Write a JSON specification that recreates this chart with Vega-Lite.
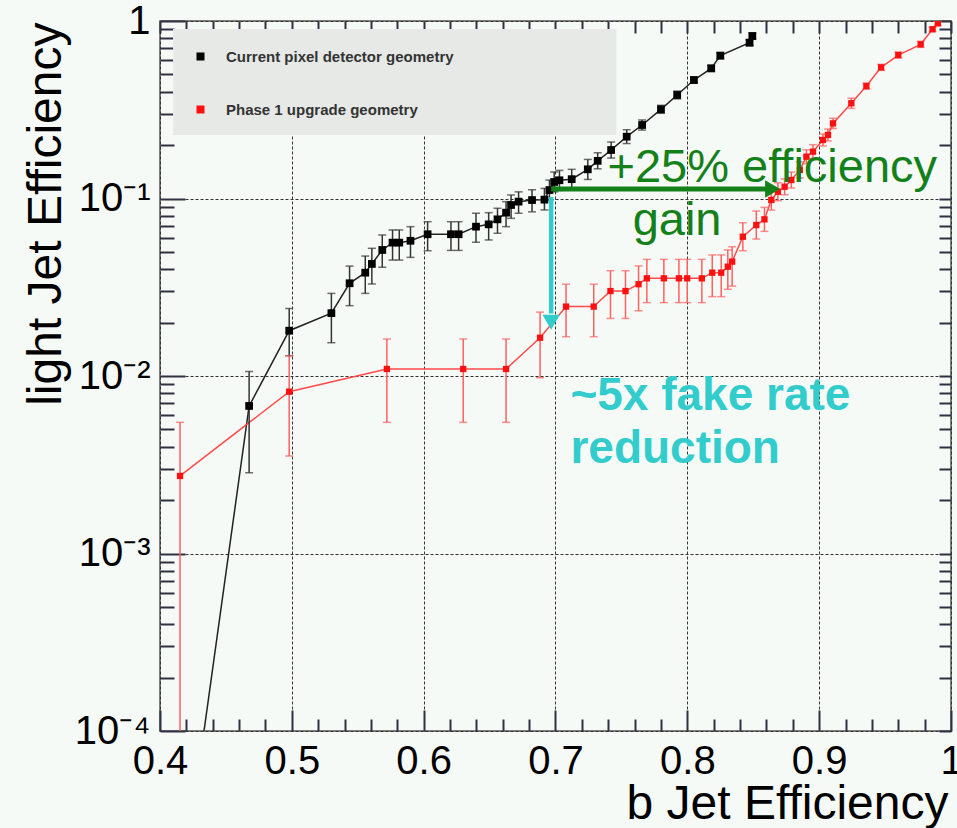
{
  "$schema": "https://vega.github.io/schema/vega-lite/v6.json",
  "width": 791,
  "height": 710,
  "autosize": {"type": "none"},
  "padding": {"left": 160, "top": 21, "right": 6, "bottom": 97},
  "background": "#f6faf7",
  "config": {
    "view": {"stroke": "#555555", "strokeWidth": 1.5},
    "font": "Liberation Sans"
  },
  "resolve": {"axis": {"x": "independent", "y": "independent"}},
  "datasets": {
    "curves": [
      {"s": "Current pixel detector geometry", "x": 0.4147, "y": 0.00001, "lo": 0.00001, "hi": 0.00001},
      {"s": "Current pixel detector geometry", "x": 0.4676, "y": 0.00678, "lo": 0.00285, "hi": 0.0106},
      {"s": "Current pixel detector geometry", "x": 0.498, "y": 0.018, "lo": 0.013, "hi": 0.024},
      {"s": "Current pixel detector geometry", "x": 0.53, "y": 0.0226, "lo": 0.0154, "hi": 0.0292},
      {"s": "Current pixel detector geometry", "x": 0.5438, "y": 0.0333, "lo": 0.0249, "hi": 0.0416},
      {"s": "Current pixel detector geometry", "x": 0.5557, "y": 0.0382, "lo": 0.0292, "hi": 0.0474},
      {"s": "Current pixel detector geometry", "x": 0.5607, "y": 0.0428, "lo": 0.033, "hi": 0.0524},
      {"s": "Current pixel detector geometry", "x": 0.5686, "y": 0.0513, "lo": 0.041, "hi": 0.0623},
      {"s": "Current pixel detector geometry", "x": 0.5764, "y": 0.0564, "lo": 0.045, "hi": 0.0665},
      {"s": "Current pixel detector geometry", "x": 0.5815, "y": 0.0564, "lo": 0.045, "hi": 0.0665},
      {"s": "Current pixel detector geometry", "x": 0.59, "y": 0.0578, "lo": 0.0466, "hi": 0.0694},
      {"s": "Current pixel detector geometry", "x": 0.603, "y": 0.0629, "lo": 0.0508, "hi": 0.074},
      {"s": "Current pixel detector geometry", "x": 0.6207, "y": 0.0629, "lo": 0.051, "hi": 0.074},
      {"s": "Current pixel detector geometry", "x": 0.6265, "y": 0.0629, "lo": 0.051, "hi": 0.074},
      {"s": "Current pixel detector geometry", "x": 0.6397, "y": 0.0694, "lo": 0.0567, "hi": 0.0826},
      {"s": "Current pixel detector geometry", "x": 0.6493, "y": 0.0715, "lo": 0.0584, "hi": 0.0832},
      {"s": "Current pixel detector geometry", "x": 0.656, "y": 0.0763, "lo": 0.0637, "hi": 0.0881},
      {"s": "Current pixel detector geometry", "x": 0.6625, "y": 0.0832, "lo": 0.0694, "hi": 0.096},
      {"s": "Current pixel detector geometry", "x": 0.6663, "y": 0.0919, "lo": 0.0773, "hi": 0.1047},
      {"s": "Current pixel detector geometry", "x": 0.672, "y": 0.096, "lo": 0.0826, "hi": 0.109},
      {"s": "Current pixel detector geometry", "x": 0.6822, "y": 0.098, "lo": 0.0841, "hi": 0.112},
      {"s": "Current pixel detector geometry", "x": 0.6916, "y": 0.0985, "lo": 0.0862, "hi": 0.114},
      {"s": "Current pixel detector geometry", "x": 0.6954, "y": 0.1116, "lo": 0.098, "hi": 0.127},
      {"s": "Current pixel detector geometry", "x": 0.699, "y": 0.1239, "lo": 0.109, "hi": 0.141},
      {"s": "Current pixel detector geometry", "x": 0.703, "y": 0.1267, "lo": 0.111, "hi": 0.144},
      {"s": "Current pixel detector geometry", "x": 0.7123, "y": 0.1285, "lo": 0.113, "hi": 0.146},
      {"s": "Current pixel detector geometry", "x": 0.7245, "y": 0.146, "lo": 0.128, "hi": 0.166},
      {"s": "Current pixel detector geometry", "x": 0.732, "y": 0.163, "lo": 0.147, "hi": 0.181},
      {"s": "Current pixel detector geometry", "x": 0.7422, "y": 0.1876, "lo": 0.169, "hi": 0.208},
      {"s": "Current pixel detector geometry", "x": 0.754, "y": 0.223, "lo": 0.204, "hi": 0.244},
      {"s": "Current pixel detector geometry", "x": 0.7657, "y": 0.2595, "lo": 0.243, "hi": 0.277},
      {"s": "Current pixel detector geometry", "x": 0.78, "y": 0.318, "lo": 0.302, "hi": 0.335},
      {"s": "Current pixel detector geometry", "x": 0.7923, "y": 0.383, "lo": 0.364, "hi": 0.403},
      {"s": "Current pixel detector geometry", "x": 0.805, "y": 0.465, "lo": 0.447, "hi": 0.484},
      {"s": "Current pixel detector geometry", "x": 0.8181, "y": 0.541, "lo": 0.52, "hi": 0.563},
      {"s": "Current pixel detector geometry", "x": 0.825, "y": 0.638, "lo": 0.613, "hi": 0.664},
      {"s": "Current pixel detector geometry", "x": 0.8472, "y": 0.755, "lo": 0.726, "hi": 0.785},
      {"s": "Current pixel detector geometry", "x": 0.8493, "y": 0.823, "lo": 0.791, "hi": 0.856},
      {"s": "Phase 1 upgrade geometry", "x": 0.4152, "y": 0.002734, "lo": 0.00001, "hi": 0.00548},
      {"s": "Phase 1 upgrade geometry", "x": 0.498, "y": 0.00816, "lo": 0.00354, "hi": 0.013},
      {"s": "Phase 1 upgrade geometry", "x": 0.5721, "y": 0.01095, "lo": 0.00548, "hi": 0.01616},
      {"s": "Phase 1 upgrade geometry", "x": 0.63, "y": 0.01095, "lo": 0.00548, "hi": 0.01616},
      {"s": "Phase 1 upgrade geometry", "x": 0.6625, "y": 0.01095, "lo": 0.00548, "hi": 0.01616},
      {"s": "Phase 1 upgrade geometry", "x": 0.6883, "y": 0.01643, "lo": 0.00978, "hi": 0.0229},
      {"s": "Phase 1 upgrade geometry", "x": 0.708, "y": 0.0246, "lo": 0.01665, "hi": 0.0329},
      {"s": "Phase 1 upgrade geometry", "x": 0.729, "y": 0.0246, "lo": 0.01665, "hi": 0.0329},
      {"s": "Phase 1 upgrade geometry", "x": 0.7417, "y": 0.0301, "lo": 0.0211, "hi": 0.0392},
      {"s": "Phase 1 upgrade geometry", "x": 0.7531, "y": 0.0301, "lo": 0.0211, "hi": 0.0392},
      {"s": "Phase 1 upgrade geometry", "x": 0.763, "y": 0.0329, "lo": 0.0233, "hi": 0.0417},
      {"s": "Phase 1 upgrade geometry", "x": 0.7693, "y": 0.0355, "lo": 0.0259, "hi": 0.0454},
      {"s": "Phase 1 upgrade geometry", "x": 0.7822, "y": 0.0355, "lo": 0.0259, "hi": 0.0454},
      {"s": "Phase 1 upgrade geometry", "x": 0.7936, "y": 0.0355, "lo": 0.0259, "hi": 0.0454},
      {"s": "Phase 1 upgrade geometry", "x": 0.7999, "y": 0.0355, "lo": 0.0259, "hi": 0.0454},
      {"s": "Phase 1 upgrade geometry", "x": 0.811, "y": 0.0355, "lo": 0.0259, "hi": 0.0454},
      {"s": "Phase 1 upgrade geometry", "x": 0.8189, "y": 0.0382, "lo": 0.028, "hi": 0.0481},
      {"s": "Phase 1 upgrade geometry", "x": 0.8257, "y": 0.0382, "lo": 0.028, "hi": 0.0481},
      {"s": "Phase 1 upgrade geometry", "x": 0.8307, "y": 0.0413, "lo": 0.0308, "hi": 0.0513},
      {"s": "Phase 1 upgrade geometry", "x": 0.834, "y": 0.0441, "lo": 0.0321, "hi": 0.0535},
      {"s": "Phase 1 upgrade geometry", "x": 0.8421, "y": 0.0609, "lo": 0.0508, "hi": 0.073},
      {"s": "Phase 1 upgrade geometry", "x": 0.8523, "y": 0.0709, "lo": 0.0591, "hi": 0.085},
      {"s": "Phase 1 upgrade geometry", "x": 0.8585, "y": 0.0763, "lo": 0.0653, "hi": 0.0891},
      {"s": "Phase 1 upgrade geometry", "x": 0.8637, "y": 0.0981, "lo": 0.0861, "hi": 0.1117},
      {"s": "Phase 1 upgrade geometry", "x": 0.8687, "y": 0.1092, "lo": 0.0972, "hi": 0.1227},
      {"s": "Phase 1 upgrade geometry", "x": 0.8738, "y": 0.1165, "lo": 0.105, "hi": 0.129},
      {"s": "Phase 1 upgrade geometry", "x": 0.8789, "y": 0.1271, "lo": 0.1146, "hi": 0.141},
      {"s": "Phase 1 upgrade geometry", "x": 0.8853, "y": 0.1448, "lo": 0.1306, "hi": 0.1606},
      {"s": "Phase 1 upgrade geometry", "x": 0.8903, "y": 0.172, "lo": 0.157, "hi": 0.188},
      {"s": "Phase 1 upgrade geometry", "x": 0.8953, "y": 0.1836, "lo": 0.168, "hi": 0.201},
      {"s": "Phase 1 upgrade geometry", "x": 0.9029, "y": 0.2136, "lo": 0.1976, "hi": 0.231},
      {"s": "Phase 1 upgrade geometry", "x": 0.9067, "y": 0.228, "lo": 0.211, "hi": 0.246},
      {"s": "Phase 1 upgrade geometry", "x": 0.9105, "y": 0.265, "lo": 0.248, "hi": 0.283},
      {"s": "Phase 1 upgrade geometry", "x": 0.9244, "y": 0.344, "lo": 0.322, "hi": 0.367},
      {"s": "Phase 1 upgrade geometry", "x": 0.9358, "y": 0.43, "lo": 0.413, "hi": 0.447},
      {"s": "Phase 1 upgrade geometry", "x": 0.947, "y": 0.548, "lo": 0.527, "hi": 0.57},
      {"s": "Phase 1 upgrade geometry", "x": 0.96, "y": 0.643, "lo": 0.618, "hi": 0.669},
      {"s": "Phase 1 upgrade geometry", "x": 0.977, "y": 0.739, "lo": 0.71, "hi": 0.769},
      {"s": "Phase 1 upgrade geometry", "x": 0.986, "y": 0.898, "lo": 0.874, "hi": 0.922},
      {"s": "Phase 1 upgrade geometry", "x": 0.99, "y": 0.97, "lo": 0.945, "hi": 0.995}
    ]
  },
  "layer": [
    {
      "data": {"values": [{"x": 0.4099, "x2": 0.7462, "y": 0.901, "y2": 0.228}]},
      "mark": {"type": "rect", "color": "#e6e9e6"},
      "encoding": {
        "x": {"field": "x", "type": "quantitative", "scale": {"domain": [0.4, 1], "nice": false, "zero": false}, "axis": null},
        "x2": {"field": "x2"},
        "y": {"field": "y", "type": "quantitative", "scale": {"type": "log", "domain": [0.0001, 1], "nice": false}, "axis": null},
        "y2": {"field": "y2"}
      }
    },
    {
      "data": {"name": "curves"},
      "mark": {"type": "line", "clip": true, "strokeWidth": 1.5},
      "encoding": {
        "x": {
          "field": "x", "type": "quantitative",
          "scale": {"domain": [0.4, 1], "nice": false, "zero": false},
          "axis": {
            "orient": "bottom",
            "values": [0.4, 0.5, 0.6, 0.7, 0.8, 0.9, 1],
            "format": "~g",
            "labelOverlap": false, "labelFlush": false, "labelBound": false,
            "labelFont": "Liberation Sans", "labelFontSize": 40, "labelColor": "#000000",
            "labelPadding": 10,
            "ticks": false, "tickSize": 0,
            "domain": false,
            "grid": true, "gridColor": "#333333", "gridDash": [3, 2], "gridWidth": 1,
            "title": "b Jet Efficiency",
            "titleFont": "Liberation Sans", "titleFontSize": 48, "titleFontWeight": "normal", "titleColor": "#000000",
            "titleAlign": "right", "titleBaseline": "alphabetic", "titleX": 788, "titleY": 87
          }
        },
        "y": {
          "field": "y", "type": "quantitative",
          "scale": {"type": "log", "domain": [0.0001, 1], "nice": false},
          "axis": {
            "orient": "left",
            "values": [0.0001, 0.001, 0.01, 0.1, 1],
            "labelExpr": "datum.value == 1 ? '1' : datum.value == 0.1 ? '10⁻¹' : datum.value == 0.01 ? '10⁻²' : datum.value == 0.001 ? '10⁻³' : '10⁻⁴'",
            "labelOverlap": false, "labelFlush": false, "labelBound": false,
            "labelFont": "Liberation Sans", "labelFontSize": 40, "labelColor": "#000000",
            "labelPadding": 10,
            "ticks": false, "tickSize": 0,
            "domain": false,
            "grid": true, "gridColor": "#333333", "gridDash": [3, 2], "gridWidth": 1,
            "title": "light Jet Efficiency",
            "titleFont": "Liberation Sans", "titleFontSize": 48, "titleFontWeight": "normal", "titleColor": "#000000",
            "titleAngle": -90, "titleAlign": "right", "titleBaseline": "alphabetic", "titleX": -100, "titleY": 1
          }
        },
        "detail": {"field": "s"},
        "color": {"condition": {"test": "datum.s == 'Phase 1 upgrade geometry'", "value": "#ff4a4a"}, "value": "#222222"}
      }
    },
    {
      "data": {"name": "curves"},
      "mark": {"type": "rule", "clip": true, "strokeWidth": 1.5},
      "encoding": {
        "x": {
          "field": "x", "type": "quantitative",
          "scale": {"domain": [0.4, 1], "nice": false, "zero": false},
          "axis": {
            "orient": "bottom", "values": [0.4, 0.5, 0.6, 0.7, 0.8, 0.9, 1],
            "labels": false, "tickSize": -21, "tickColor": "#303040", "tickWidth": 2,
            "domain": false, "grid": false, "title": null
          }
        },
        "y": {
          "field": "lo", "type": "quantitative",
          "scale": {"type": "log", "domain": [0.0001, 1], "nice": false},
          "axis": {
            "orient": "left", "values": [0.0001, 0.001, 0.01, 0.1, 1],
            "labels": false, "tickSize": -25, "tickColor": "#303040", "tickWidth": 2,
            "domain": false, "grid": false, "title": null
          }
        },
        "y2": {"field": "hi"},
        "color": {"condition": {"test": "datum.s == 'Phase 1 upgrade geometry'", "value": "#ff6060"}, "value": "#333333"}
      }
    },
    {
      "data": {"name": "curves"},
      "transform": [{"fold": ["lo", "hi"], "as": ["end", "bound"]}],
      "mark": {"type": "tick", "orient": "horizontal", "clip": true, "size": 8, "thickness": 1.5},
      "encoding": {
        "x": {
          "field": "x", "type": "quantitative",
          "scale": {"domain": [0.4, 1], "nice": false, "zero": false},
          "axis": {
            "orient": "bottom",
            "values": [0.42,0.44,0.46,0.48,0.52,0.54,0.56,0.58,0.62,0.64,0.66,0.68,0.72,0.74,0.76,0.78,0.82,0.84,0.86,0.88,0.92,0.94,0.96,0.98],
            "labels": false, "tickSize": -12, "tickColor": "#303040", "tickWidth": 2,
            "domain": false, "grid": false, "title": null
          }
        },
        "y": {
          "field": "bound", "type": "quantitative",
          "scale": {"type": "log", "domain": [0.0001, 1], "nice": false},
          "axis": {
            "orient": "left",
            "values": [0.0002,0.0003,0.0004,0.0005,0.0006,0.0007,0.0008,0.0009,0.002,0.003,0.004,0.005,0.006,0.007,0.008,0.009,0.02,0.03,0.04,0.05,0.06,0.07,0.08,0.09,0.2,0.3,0.4,0.5,0.6,0.7,0.8,0.9],
            "labels": false, "tickSize": -14, "tickColor": "#303040", "tickWidth": 2,
            "domain": false, "grid": false, "title": null
          }
        },
        "color": {"condition": {"test": "datum.s == 'Phase 1 upgrade geometry'", "value": "#ff6060"}, "value": "#333333"}
      }
    },
    {
      "data": {"name": "curves"},
      "mark": {"type": "square", "clip": true, "filled": true, "opacity": 1},
      "encoding": {
        "x": {
          "field": "x", "type": "quantitative",
          "scale": {"domain": [0.4, 1], "nice": false, "zero": false},
          "axis": {
            "orient": "top",
            "values": [0.4,0.42,0.44,0.46,0.48,0.5,0.52,0.54,0.56,0.58,0.6,0.62,0.64,0.66,0.68,0.7,0.72,0.74,0.76,0.78,0.8,0.82,0.84,0.86,0.88,0.9,0.92,0.94,0.96,0.98,1],
            "labels": false, "tickSize": -12, "tickColor": "#303040", "tickWidth": 2,
            "domain": false, "grid": false, "title": null
          }
        },
        "y": {
          "field": "y", "type": "quantitative",
          "scale": {"type": "log", "domain": [0.0001, 1], "nice": false},
          "axis": {
            "orient": "right",
            "values": [0.0001,0.0002,0.0003,0.0004,0.0005,0.0006,0.0007,0.0008,0.0009,0.001,0.002,0.003,0.004,0.005,0.006,0.007,0.008,0.009,0.01,0.02,0.03,0.04,0.05,0.06,0.07,0.08,0.09,0.1,0.2,0.3,0.4,0.5,0.6,0.7,0.8,0.9,1],
            "labels": false, "tickSize": -12, "tickColor": "#303040", "tickWidth": 2,
            "domain": false, "grid": false, "title": null
          }
        },
        "size": {"condition": {"test": "datum.s == 'Phase 1 upgrade geometry'", "value": 40}, "value": 60},
        "color": {
          "field": "s", "type": "nominal",
          "scale": {"domain": ["Current pixel detector geometry", "Phase 1 upgrade geometry"], "range": ["#000000", "#ff1010"]},
          "legend": {
            "title": null, "orient": "none", "legendX": 33, "legendY": 28,
            "symbolType": "square", "symbolSize": 64, "symbolStrokeWidth": 0,
            "labelFont": "Liberation Sans", "labelFontWeight": "bold", "labelFontSize": 15, "labelColor": "#333333",
            "labelOffset": 18, "labelLimit": 600, "rowPadding": 37, "padding": 0
          }
        }
      }
    },
    {
      "data": {"values": [{"x": 0.6967, "x2": 0.862, "y": 0.1131}]},
      "mark": {"type": "rule", "strokeWidth": 5, "color": "#13801a"},
      "encoding": {
        "x": {"field": "x", "type": "quantitative", "scale": {"domain": [0.4, 1], "nice": false, "zero": false}, "axis": null},
        "x2": {"field": "x2"},
        "y": {"field": "y", "type": "quantitative", "scale": {"type": "log", "domain": [0.0001, 1], "nice": false}, "axis": null}
      }
    },
    {
      "data": {"values": [{"x": 0.8647, "y": 0.1131}]},
      "mark": {"type": "point", "shape": "triangle-right", "filled": true, "size": 300, "color": "#13801a", "opacity": 1},
      "encoding": {
        "x": {"field": "x", "type": "quantitative", "scale": {"domain": [0.4, 1], "nice": false, "zero": false}, "axis": null},
        "y": {"field": "y", "type": "quantitative", "scale": {"type": "log", "domain": [0.0001, 1], "nice": false}, "axis": null}
      }
    },
    {
      "data": {"values": [{"x": 0.6967, "y": 0.102, "y2": 0.0225}]},
      "mark": {"type": "rule", "strokeWidth": 4.5, "color": "#33cccc"},
      "encoding": {
        "x": {"field": "x", "type": "quantitative", "scale": {"domain": [0.4, 1], "nice": false, "zero": false}, "axis": null},
        "y": {"field": "y", "type": "quantitative", "scale": {"type": "log", "domain": [0.0001, 1], "nice": false}, "axis": null},
        "y2": {"field": "y2"}
      }
    },
    {
      "data": {"values": [{"x": 0.6967, "y": 0.0201}]},
      "mark": {"type": "point", "shape": "triangle-down", "filled": true, "size": 300, "color": "#33cccc", "opacity": 1},
      "encoding": {
        "x": {"field": "x", "type": "quantitative", "scale": {"domain": [0.4, 1], "nice": false, "zero": false}, "axis": null},
        "y": {"field": "y", "type": "quantitative", "scale": {"type": "log", "domain": [0.0001, 1], "nice": false}, "axis": null}
      }
    },
    {
      "data": {"values": [{"label": "+25% efficiency", "x": 0.7394, "y": 0.124}]},
      "mark": {"type": "text", "align": "left", "baseline": "alphabetic", "font": "Liberation Sans", "fontSize": 47, "color": "#13801a"},
      "encoding": {
        "x": {"field": "x", "type": "quantitative", "scale": {"domain": [0.4, 1], "nice": false, "zero": false}, "axis": null},
        "y": {"field": "y", "type": "quantitative", "scale": {"type": "log", "domain": [0.0001, 1], "nice": false}, "axis": null},
        "text": {"field": "label"}
      }
    },
    {
      "data": {"values": [{"label": "gain", "x": 0.7922, "y": 0.0623}]},
      "mark": {"type": "text", "align": "center", "baseline": "alphabetic", "font": "Liberation Sans", "fontSize": 47, "color": "#13801a"},
      "encoding": {
        "x": {"field": "x", "type": "quantitative", "scale": {"domain": [0.4, 1], "nice": false, "zero": false}, "axis": null},
        "y": {"field": "y", "type": "quantitative", "scale": {"type": "log", "domain": [0.0001, 1], "nice": false}, "axis": null},
        "text": {"field": "label"}
      }
    },
    {
      "data": {"values": [{"label": "~5x fake rate", "x": 0.7113, "y": 0.00643}, {"label": "reduction", "x": 0.7113, "y": 0.00323}]},
      "mark": {"type": "text", "align": "left", "baseline": "alphabetic", "font": "Liberation Sans", "fontWeight": "bold", "fontSize": 46, "color": "#33cccc"},
      "encoding": {
        "x": {"field": "x", "type": "quantitative", "scale": {"domain": [0.4, 1], "nice": false, "zero": false}, "axis": null},
        "y": {"field": "y", "type": "quantitative", "scale": {"type": "log", "domain": [0.0001, 1], "nice": false}, "axis": null},
        "text": {"field": "label"}
      }
    }
  ]
}
